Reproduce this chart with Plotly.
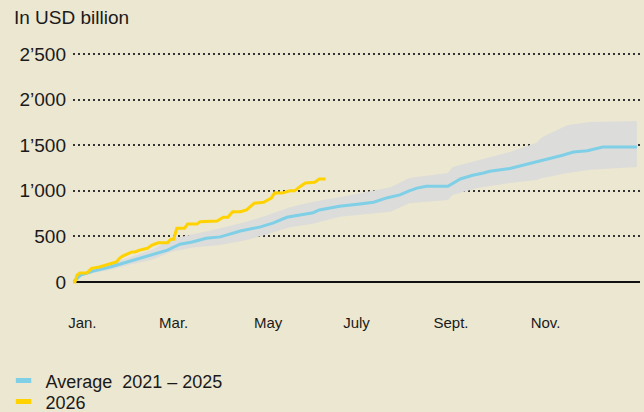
import plotly.graph_objects as go

# day-of-year positions and values (USD billion)
avg_days = [0, 5, 13, 24, 35, 43, 52, 61, 69, 77, 86, 95, 99, 108, 121, 129, 138, 146,
            155, 159, 166, 172, 185, 194, 203, 211, 217, 222, 228, 242, 250, 258, 265,
            269, 282, 288, 297, 306, 316, 323, 332, 342, 364]
avg_values = [0, 75, 120, 165, 220, 260, 300, 350, 415, 440, 480, 495, 515, 560, 605, 645,
              710, 735, 760, 790, 810, 830, 855, 875, 925, 955, 1000, 1030, 1050, 1050,
              1130, 1170, 1195, 1215, 1245, 1270, 1305, 1345, 1390, 1425, 1440, 1480, 1480]

band_days = [0, 5, 13, 24, 35, 43, 52, 63, 77, 95, 112, 125, 140, 155, 172, 190, 205,
             217, 242, 245, 261, 282, 299, 303, 319, 334, 364]
band_upper = [0, 90, 150, 200, 260, 310, 360, 470, 520, 590, 660, 730, 820, 880, 930, 990,
              1040, 1140, 1195, 1260, 1335, 1425, 1525, 1590, 1720, 1755, 1765]
band_lower = [0, 60, 100, 135, 185, 215, 250, 330, 380, 405, 460, 520, 600, 640, 715, 745,
              770, 865, 900, 955, 1030, 1085, 1120, 1140, 1195, 1230, 1260]

y2026_days = [0, 1.3, 2.6, 4.5, 9, 12, 17, 21, 25, 28, 30, 32, 38, 40, 43, 48, 51, 55, 61,
              63, 65, 66, 67, 72, 74, 80, 82, 93, 97, 100, 103, 108, 112, 115, 117, 123,
              128, 130, 135, 140, 143, 146, 150, 156, 159, 163]
y2026_values = [0, 0, 75, 100, 100, 150, 165, 185, 205, 220, 260, 285, 330, 330, 350, 370,
                405, 430, 430, 470, 470, 535, 590, 590, 635, 635, 660, 670, 710, 710, 770,
                770, 790, 835, 865, 875, 920, 975, 975, 1000, 1000, 1040, 1085, 1095, 1130,
                1130]

month_ticks = [6, 65, 126, 183, 244, 305]
month_labels = ["Jan.", "Mar.", "May", "July", "Sept.", "Nov."]
y_ticks = [0, 500, 1000, 1500, 2000, 2500]
y_labels = ["0", "500", "1’000", "1’500", "2’000", "2’500"]

BG = "#ECE7D0"
BLUE = "#7FCFE6"
YELLOW = "#FFD200"
BAND = "#DCDCDA"
TEXT = "#1A1A1A"
FONT = "Liberation Sans, Arial, sans-serif"

fig = go.Figure()

# Bandbreite (min/max der Vorjahre)
fig.add_trace(go.Scatter(x=band_days, y=band_lower, mode="lines",
                         line=dict(width=0, color=BAND), showlegend=False,
                         hoverinfo="skip"))
fig.add_trace(go.Scatter(x=band_days, y=band_upper, mode="lines", fill="tonexty",
                         fillcolor=BAND, line=dict(width=0, color=BAND),
                         showlegend=False, hoverinfo="skip"))

fig.add_trace(go.Scatter(x=avg_days, y=avg_values, mode="lines",
                         line=dict(color=BLUE, width=3), showlegend=False))
fig.add_trace(go.Scatter(x=y2026_days, y=y2026_values, mode="lines",
                         line=dict(color=YELLOW, width=3), showlegend=False))

# Legende: zwei einzelne Legenden, damit die Abstände passen
fig.add_trace(go.Scatter(x=[None], y=[None], mode="markers", name="Average  2021 – 2025",
                         legend="legend",
                         marker=dict(symbol="line-ew", size=11,
                                     line=dict(color=BLUE, width=5))))
fig.add_trace(go.Scatter(x=[None], y=[None], mode="markers", name="2026",
                         legend="legend2",
                         marker=dict(symbol="line-ew", size=11,
                                     line=dict(color=YELLOW, width=5))))

legend_style = dict(orientation="v", xanchor="left", yanchor="middle",
                    bgcolor="rgba(0,0,0,0)", font=dict(size=18, color=TEXT),
                    itemwidth=34)

fig.update_layout(
    width=644,
    height=412,
    paper_bgcolor=BG,
    plot_bgcolor=BG,
    font=dict(family=FONT, color=TEXT, size=18),
    margin=dict(l=73, r=4, t=44, b=112, autoexpand=False),
    title=dict(text="In USD billion", xref="container", yref="container",
               x=14 / 644, y=1 - 17 / 412, xanchor="left", yanchor="middle",
               font=dict(size=19, color=TEXT)),
    legend=dict(legend_style, x=-0.126, y=-0.316),
    legend2=dict(legend_style, x=-0.126, y=-0.398),
    showlegend=True,
)

fig.update_xaxes(
    range=[0, 366],
    tickvals=month_ticks,
    ticktext=month_labels,
    showgrid=False,
    zeroline=False,
    showline=False,
    ticks="",
    tickfont=dict(size=15, color=TEXT),
    ticklabelstandoff=12,
    automargin=False,
)

fig.update_yaxes(
    range=[-197, 2610],
    tickvals=y_ticks,
    ticktext=y_labels,
    tickfont=dict(size=19, color=TEXT),
    showgrid=True,
    gridcolor="#333333",
    gridwidth=1.5,
    griddash="2px,3px",
    zeroline=True,
    zerolinecolor="#111111",
    zerolinewidth=2,
    showline=False,
    ticks="",
    ticklabelstandoff=6,
    automargin=False,
)

fig.write_html("out.html", config={"displayModeBar": False},
               post_script="document.body.style.margin = '0';")
